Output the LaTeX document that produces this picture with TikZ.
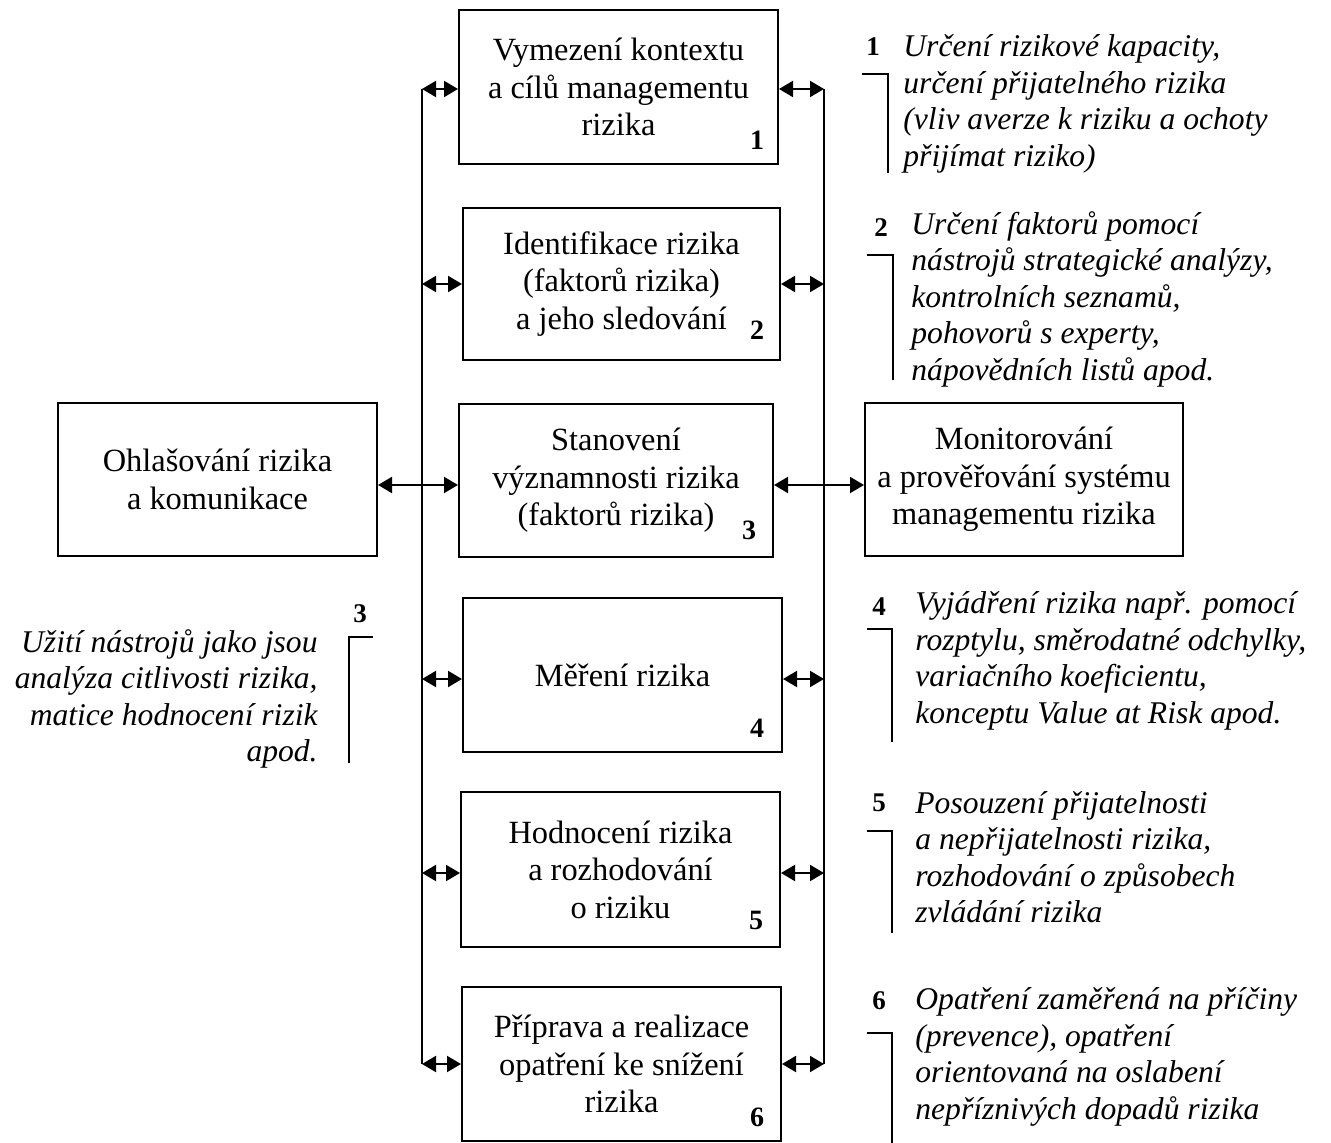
\documentclass[tikz,border=0pt]{standalone}
\usepackage{fontspec}
\setmainfont{Liberation Serif}
\usetikzlibrary{arrows.meta}
\begin{document}
\begin{tikzpicture}[x=0.5pt,y=-0.5pt,
  box/.style={draw, line width=1pt, inner sep=0pt, align=center,
    font=\fontsize{16.2}{18.8}\selectfont},
  num/.style={inner sep=0pt, font=\bfseries\fontsize{14}{16}\selectfont},
  anum/.style={inner sep=0pt, font=\bfseries\fontsize{13.5}{15}\selectfont},
  ann/.style={inner sep=0pt, font=\itshape\fontsize{15.8}{18.25}\selectfont},
  vline/.style={line width=1pt},
  brk/.style={line width=1pt},
  dbl/.style={{Triangle[length=7pt,width=8pt]}-{Triangle[length=7pt,width=8pt]}, line width=1pt}]
\useasboundingbox (0,0) rectangle (1331,1143);

% central boxes
\node[box, minimum width=159.5pt, minimum height=77pt] (B1) at (618.5,87) {Vymezení kontextu\\a cílů managementu\\rizika};
\node[box, minimum width=158.5pt, minimum height=76pt] (B2) at (621.5,284) {Identifikace rizika\\(faktorů rizika)\\a jeho sledování};
\node[box, minimum width=157pt, minimum height=76.5pt] (B3) at (616,480.5) {Stanovení\\významnosti rizika\\(faktorů rizika)};
\node[box, minimum width=159.5pt, minimum height=77pt] (B4) at (622.5,675) {Měření rizika};
\node[box, minimum width=159.5pt, minimum height=77.5pt] (B5) at (620.5,869.5) {Hodnocení rizika\\a rozhodování\\o riziku};
\node[box, minimum width=159.5pt, minimum height=77pt] (B6) at (621.5,1064) {Příprava a realizace\\opatření ke snížení\\rizika};

% side boxes
\node[box, minimum width=159.5pt, minimum height=76.5pt] (L) at (217.5,479.5) {Ohlašování rizika\\a komunikace};
\node[box, minimum width=159pt, minimum height=76.5pt] (R) at (1024,479.5) {Monitorování\\a prověřování systému\\managementu rizika};

% box numbers
\node[num] (n1) at (757,140) {1};
\node[num] (n2) at (757,330) {2};
\node[num] (n3) at (749,530) {3};
\node[num] (n4) at (757,728) {4};
\node[num] (n5) at (756,920) {5};
\node[num] (n6) at (757,1117) {6};

% vertical bus lines
\coordinate (l1) at (422,89);
\coordinate (l2) at (422,284);
\coordinate (l3) at (422,485);
\coordinate (l4) at (422,679);
\coordinate (l5) at (422,873);
\coordinate (l6) at (422,1064);
\coordinate (r1) at (824,89);
\coordinate (r2) at (824,284);
\coordinate (r3) at (824,485);
\coordinate (r4) at (824,679);
\coordinate (r5) at (824,873);
\coordinate (r6) at (824,1064);
\draw[vline] (l1) -- (l6);
\draw[vline] (r1) -- (r6);

% arrows
\draw[dbl] (l1) -- (l1 -| B1.west);
\draw[dbl] (l2) -- (l2 -| B2.west);
\draw[dbl] (l3 -| L.east) -- (l3 -| B3.west);
\draw[dbl] (l4) -- (l4 -| B4.west);
\draw[dbl] (l5) -- (l5 -| B5.west);
\draw[dbl] (l6) -- (l6 -| B6.west);
\draw[dbl] (r1 -| B1.east) -- (r1);
\draw[dbl] (r2 -| B2.east) -- (r2);
\draw[dbl] (r3 -| B3.east) -- (r3 -| R.west);
\draw[dbl] (r4 -| B4.east) -- (r4);
\draw[dbl] (r5 -| B5.east) -- (r5);
\draw[dbl] (r6 -| B6.east) -- (r6);

% annotations
\node[anum] (m1) at (873,47) {1};
\draw[brk] (862,74) -- (888,74) -- (888,173);
\node[ann, anchor=west, align=left] (a1) at (903,104) {Určení rizikové kapacity,\\určení přijatelného rizika\\(vliv averze k riziku a ochoty\\přijímat riziko)};

\node[anum] (m2) at (881,228) {2};
\draw[brk] (867,255) -- (893,255) -- (893,380);
\node[ann, anchor=west, align=left] (a2) at (911,299) {Určení faktorů pomocí\\nástrojů strategické analýzy,\\kontrolních seznamů,\\pohovorů s experty,\\nápovědních listů apod.};

\node[anum] (m3) at (360,614) {3};
\draw[brk] (373,637) -- (349,637) -- (349,763);
\node[ann, anchor=east, align=right] (a3) at (318,699) {Užití nástrojů jako jsou\\analýza citlivosti rizika,\\matice hodnocení rizik\\apod.};

\node[anum] (m4) at (879,607) {4};
\draw[brk] (867,629) -- (892,629) -- (892,742);
\node[ann, anchor=west, align=left] (a4) at (915,661) {Vyjádření rizika např. pomocí\\rozptylu, směrodatné odchylky,\\variačního koeficientu,\\konceptu Value at Risk apod.};

\node[anum] (m5) at (879,803) {5};
\draw[brk] (867,831) -- (892,831) -- (892,933);
\node[ann, anchor=west, align=left] (a5) at (915,857) {Posouzení přijatelnosti\\a nepřijatelnosti rizika,\\rozhodování o způsobech\\zvládání rizika};

\node[anum] (m6) at (879,1001) {6};
\draw[brk] (867,1033) -- (892,1033) -- (892,1143);
\node[ann, anchor=west, align=left] (a6) at (915,1057) {Opatření zaměřená na příčiny\\(prevence), opatření\\orientovaná na oslabení\\nepříznivých dopadů rizika};
\end{tikzpicture}
\end{document}
